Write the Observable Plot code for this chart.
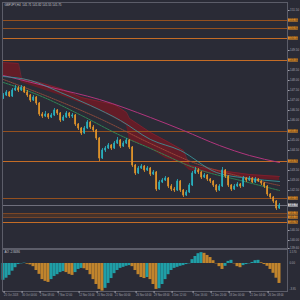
<!DOCTYPE html>
<html><head><meta charset="utf-8">
<script src="https://cdn.jsdelivr.net/npm/d3@7"></script>
<script src="https://cdn.jsdelivr.net/npm/@observablehq/plot@0.6"></script>
<style>
html,body{margin:0;padding:0;background:#2a2b36;}
#wrap{position:relative;width:300px;height:300px;overflow:hidden;}
#main,#osc{position:absolute;left:0;}
#main{top:0;} #osc{top:249px;}
svg{background:transparent !important;}
</style></head><body><div id="wrap"><div id="main"></div><div id="osc"></div></div>
<script>
// ---------- data ----------
const symbolTitle = "GBPJPY,H4  141.71 141.82 141.55 141.75";
const aoTitle = "AO -2.8486";
const firstOpen = 147.10;
const closes = [147.25,147.40,147.20,147.50,147.60,147.50,147.65,147.40,147.25,147.00,
147.15,146.85,146.30,146.20,146.30,146.15,146.25,146.50,146.35,146.00,
146.15,146.35,146.20,146.25,145.80,145.60,145.35,145.60,145.90,145.65,
145.50,145.10,144.10,144.50,144.60,144.75,144.60,144.85,145.00,144.70,
144.85,145.00,144.65,143.75,143.35,143.60,143.70,143.50,143.60,143.30,
143.40,142.55,142.90,143.00,143.10,142.70,142.55,142.50,142.95,142.50,
142.25,142.40,142.75,143.35,143.50,143.40,143.15,143.25,143.05,142.95,
142.75,142.50,142.70,143.50,143.20,142.75,142.55,142.70,142.80,142.70,
143.10,143.00,143.10,142.90,143.05,142.95,142.85,142.70,142.30,142.15,
141.95,141.60,141.75];
const highs = [147.35,147.50,147.45,147.60,147.75,147.70,147.75,147.70,147.50,147.30,
147.25,147.20,146.90,146.40,146.45,146.35,146.35,146.60,146.55,146.40,
146.25,146.45,146.40,146.35,146.30,145.85,145.65,145.70,146.00,145.95,
145.75,145.55,145.15,144.60,144.70,144.85,144.80,144.95,145.15,145.05,
144.95,145.10,145.05,144.70,143.80,143.70,143.80,143.75,143.70,143.65,
143.50,143.45,143.00,143.10,143.20,143.15,142.80,142.65,143.05,143.00,
142.55,142.50,142.85,143.45,143.65,143.60,143.45,143.35,143.30,143.10,
143.00,142.80,142.80,143.65,143.55,143.25,142.80,142.80,142.90,142.85,
143.20,143.15,143.20,143.15,143.15,143.10,143.00,142.90,142.75,142.35,
142.20,142.00,141.85];
const lows = [147.05,147.20,147.15,147.15,147.45,147.40,147.45,147.35,147.15,146.90,
146.95,146.75,146.20,146.10,146.15,146.05,146.10,146.20,146.25,145.90,
145.95,146.10,146.10,146.10,145.70,145.50,145.25,145.30,145.55,145.55,
145.40,145.00,143.95,144.05,144.40,144.55,144.50,144.55,144.80,144.60,
144.65,144.80,144.55,143.65,143.25,143.30,143.55,143.40,143.45,143.20,
143.25,142.45,142.50,142.85,142.95,142.60,142.45,142.40,142.45,142.40,
142.15,142.20,142.35,142.70,143.30,143.30,143.05,143.10,142.95,142.85,
142.65,142.40,142.45,142.65,143.10,142.65,142.45,142.50,142.65,142.60,
142.65,142.90,142.95,142.85,142.85,142.90,142.75,142.60,142.20,142.05,
141.85,141.50,141.55];

// moving averages: [candle index, price]
const maSlowIdx = [0,16,32,49,60,72,82,92];
const maSlowVal = [148.25,147.65,147.05,146.15,145.50,144.75,144.25,143.90];
const maTealIdx = [0,9,19,29,39,49,59,71,82,92];
const maTealVal = [148.20,148.00,147.40,146.75,146.00,145.05,144.50,143.40,143.10,142.95];
const maGreenIdx = [0,12,26,39,49,66,79,92];
const maGreenVal = [147.90,147.25,146.25,145.25,144.60,143.50,143.00,142.50];
const maBrownIdx = [0,18,32,49,66,79,92];
const maBrownVal = [148.05,147.00,146.10,144.85,143.75,143.20,142.75];

// cloud
const cloudIdx = [0,5,6,12,19,26,32,37,41,42,49,54,60,62,72,82,92];
const cloudTop = [148.90,148.85,148.10,147.90,147.60,147.15,146.95,146.80,146.40,146.10,145.40,145.00,144.50,143.75,143.50,143.30,143.20];
const cloudBottom = [148.20,148.15,147.90,147.60,147.25,146.85,146.50,146.10,145.75,145.00,144.60,144.10,143.80,143.50,143.30,143.10,143.00];

// horizontal levels
const majorLevels = [150.10,149.00,143.95,140.90];
const minorLevels = [151.00,150.60,145.45,142.10];
const zoneLevels = [141.15,141.35];

// price axis tick labels
const priceTicks = [151.5,149.5,148.5,148.0,147.5,147.0,146.5,146.0,145.0,144.5,143.5,143.0,142.5,140.5,140.0,139.6];

// awesome oscillator
const aoValues = [-2.4,-2.1,-1.7,-1.1,-0.6,-0.15,-0.05,0.05,-0.1,-0.2,
-0.45,-1.0,-1.55,-2.3,-2.55,-2.7,-2.3,-1.85,-1.6,-1.3,
-1.15,-1.3,-1.55,-1.7,-1.3,-0.85,-0.7,-0.75,-1.0,-1.6,
-2.3,-3.0,-3.7,-3.95,-3.55,-2.85,-2.15,-1.45,-1.0,-0.7,
-0.55,-0.4,-0.3,-0.45,-1.0,-1.6,-2.0,-2.15,-2.0,-2.3,
-3.0,-3.7,-3.6,-3.0,-2.3,-1.6,-1.0,-0.7,-0.55,-0.4,
-0.3,-0.15,-0.05,0.55,1.0,1.4,1.55,1.45,1.15,0.85,
0.4,-0.05,-0.45,-0.85,-0.4,0.3,0.45,-0.05,-0.45,-0.6,
-0.3,-0.15,-0.05,0.15,0.4,0.45,0.1,-0.15,-0.4,-0.85,
-1.4,-2.1,-2.85];
const aoTicks = [1.57, 0, -3.6];
const aoTickLabels = ["1.570", "0.00", "-3.95"];

// time axis
const timeIdx = [0,6,12,18,25,31,37,44,50,56,63,69,75,82,88];
const timeLabels = ["25 Oct 2018","30 Oct 04:00","2 Nov 08:00","7 Nov 12:00","12 Nov 16:00","15 Nov 20:00","21 Nov 00:00","26 Nov 04:00","29 Nov 08:00","4 Dec 12:00","7 Dec 16:00","12 Dec 20:00","18 Dec 00:00","21 Dec 04:00","26 Dec 08:00"];

// ---------- build ----------
const UP = "#29b4c2", DOWN = "#e3952a";
const FONT = "Liberation Sans";
const TXT = "#a4a4ae";
const xDomain = [-1/3, 94 + 2/3];

const candles = closes.map((c, i) => ({i, o: i ? closes[i-1] : firstOpen, c, h: highs[i], l: lows[i]}));
const lastClose = closes[closes.length - 1];
const toPts = (idx, val) => idx.map((i, k) => ({i, v: val[k]}));
const cloud = cloudIdx.map((i, k) => ({i, top: cloudTop[k], bot: cloudBottom[k]}));
const allLevels = majorLevels.concat(minorLevels);

const main = Plot.plot({
  width: 300, height: 250,
  marginLeft: 2, marginRight: 13, marginTop: 2, marginBottom: 2,
  x: {domain: xDomain, axis: null},
  y: {domain: [139.6, 151.9], axis: null},
  color: {type: "identity"},
  style: {background: "transparent", fontFamily: FONT},
  marks: [
    Plot.areaY(cloud, {x: "i", y1: "bot", y2: "top", fill: "#6a1b26", fillOpacity: 0.9}),
    Plot.line(cloud, {x: "i", y: "top", stroke: "#8e2230", strokeWidth: 0.6}),
    Plot.rect([zoneLevels], {x1: () => xDomain[0], x2: () => xDomain[1], y1: d => d[0], y2: d => d[1], fill: "#45322b"}),
    Plot.ruleY(zoneLevels, {stroke: "#8a4d24", strokeWidth: 0.8}),
    Plot.ruleY(minorLevels, {stroke: "#94501f", strokeWidth: 1}),
    Plot.ruleY(majorLevels, {stroke: "#c46c26", strokeWidth: 1}),
    Plot.ruleY([lastClose], {stroke: "#6f6f7c", strokeWidth: 1}),
    Plot.line(toPts(maSlowIdx, maSlowVal), {x: "i", y: "v", stroke: "#b0357c", strokeWidth: 1, curve: "monotone-x"}),
    Plot.line(toPts(maBrownIdx, maBrownVal), {x: "i", y: "v", stroke: "#a5503c", strokeWidth: 0.8, strokeDasharray: "1,1", curve: "monotone-x"}),
    Plot.line(toPts(maGreenIdx, maGreenVal), {x: "i", y: "v", stroke: "#2f9b5c", strokeWidth: 0.8, strokeDasharray: "2,1", curve: "monotone-x"}),
    Plot.line(toPts(maTealIdx, maTealVal), {x: "i", y: "v", stroke: "#3a9ea3", strokeWidth: 0.8, curve: "monotone-x"}),
    Plot.ruleX(candles, {x: "i", y1: "l", y2: "h", stroke: d => d.c >= d.o ? UP : DOWN, strokeWidth: 0.8}),
    Plot.rect(candles, {x1: d => d.i - 0.27, x2: d => d.i + 0.27,
      y1: d => Math.min(d.o, d.c) - 0.015, y2: d => Math.max(d.o, d.c) + 0.015,
      fill: d => d.c >= d.o ? UP : DOWN}),
    Plot.frame({stroke: "#5c5d69", strokeWidth: 1}),
    Plot.axisY(priceTicks, {anchor: "right", tickSize: 1.5, tickPadding: 1, fontSize: 3, fontFamily: FONT,
      color: TXT, tickFormat: d => d.toFixed(2), label: null}),
    Plot.rect(allLevels.concat(zoneLevels), {x1: () => 95, x2: () => 98.3, y1: d => d - 0.08, y2: d => d + 0.08, fill: "#d98a2a"}),
    Plot.text(allLevels.concat(zoneLevels), {x: () => 95.2, y: d => d, text: d => d.toFixed(2), textAnchor: "start",
      fontSize: 3, fontFamily: FONT, fill: "#3a2410"}),
    Plot.rect([lastClose], {x1: () => 95, x2: () => 98.3, y1: d => d - 0.08, y2: d => d + 0.08, fill: "#c9c9cf"}),
    Plot.text([lastClose], {x: () => 95.2, y: d => d, text: d => d.toFixed(2), textAnchor: "start",
      fontSize: 3, fontFamily: FONT, fill: "#202028"}),
    Plot.text([symbolTitle], {frameAnchor: "top-left", dx: 2, dy: 1.2, lineAnchor: "top", textAnchor: "start",
      fontSize: 3, fontFamily: FONT, fill: "#c4c4cc"})
  ]
});
document.getElementById("main").appendChild(main);

const ao = aoValues.map((v, i) => ({i, v, rising: i === 0 ? true : v > aoValues[i-1]}));
const timeMap = new Map(timeIdx.map((t, k) => [t, timeLabels[k]]));

const osc = Plot.plot({
  width: 300, height: 51,
  marginLeft: 2, marginRight: 13, marginTop: 0, marginBottom: 9,
  x: {domain: xDomain, axis: null},
  y: {domain: [-4, 2], axis: null},
  color: {type: "identity"},
  style: {background: "transparent", fontFamily: FONT},
  marks: [
    Plot.rect(ao, {x1: d => d.i - 0.5, x2: d => d.i + 0.5, y1: () => 0, y2: "v",
      fill: d => d.rising ? "#1f9ea6" : "#c0842c"}),
    Plot.frame({stroke: "#5c5d69", strokeWidth: 1}),
    Plot.text(aoTicks, {y: d => d, frameAnchor: "right", dx: 2, textAnchor: "start",
      text: (d, i) => aoTickLabels[aoTicks.indexOf(d)], fontSize: 2.8, fontFamily: FONT, fill: TXT}),
    Plot.text([aoTitle], {frameAnchor: "top-left", dx: 2, dy: 1.5, lineAnchor: "top", textAnchor: "start",
      fontSize: 3, fontFamily: FONT, fill: "#c4c4cc"}),
    Plot.axisX(timeIdx, {anchor: "bottom", tickSize: 2, tickPadding: 1, fontSize: 2.6, fontFamily: FONT,
      textAnchor: "start", dx: 0.6, color: TXT, tickFormat: d => timeMap.get(d), label: null})
  ]
});
document.getElementById("osc").appendChild(osc);
</script></body></html>
